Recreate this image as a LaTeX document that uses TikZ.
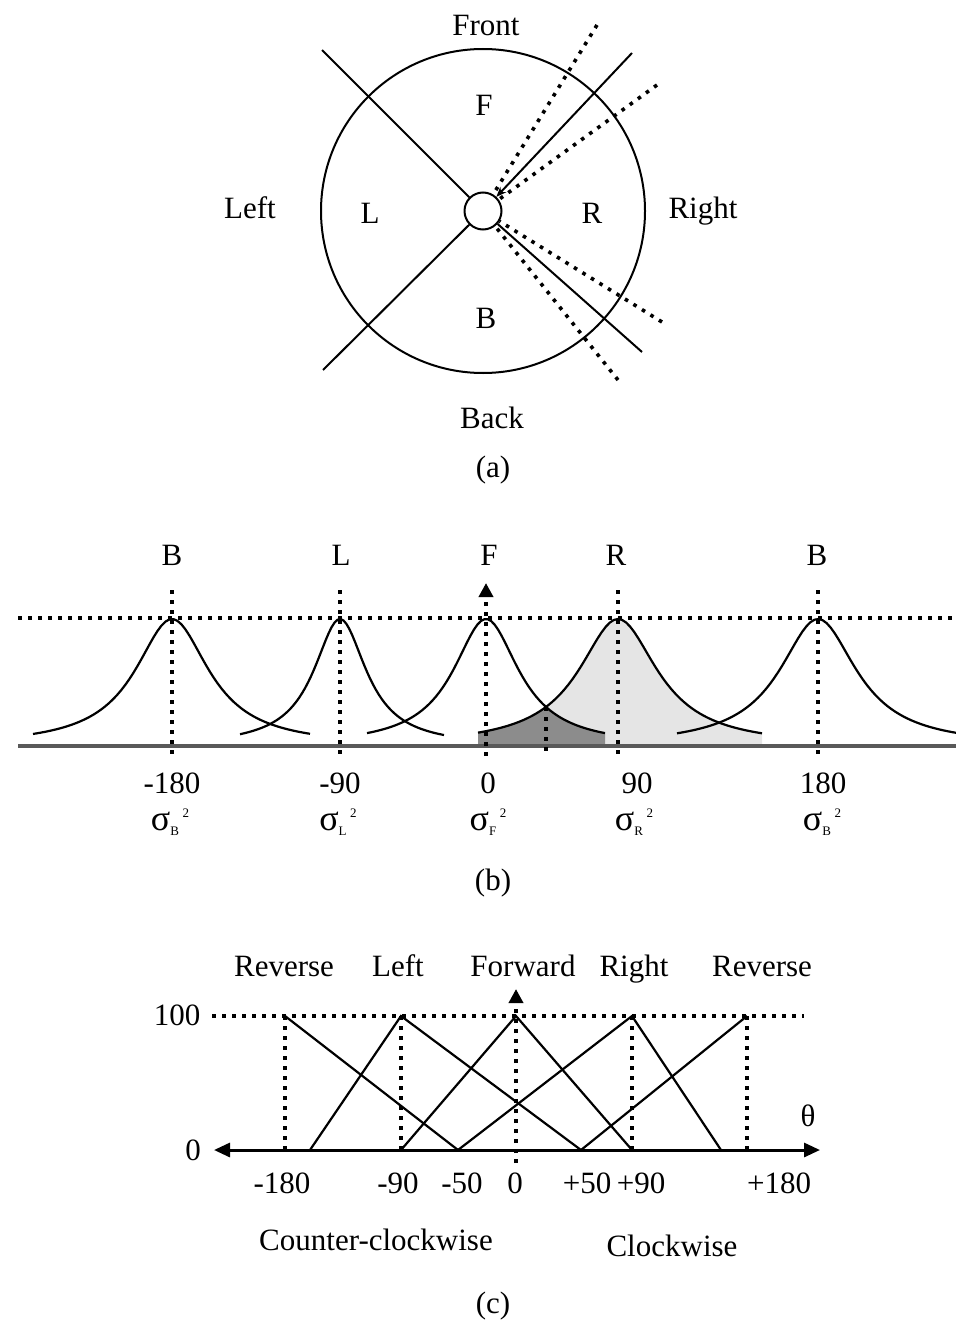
\documentclass[tikz,border=0pt]{standalone}
\usepackage{fontspec}
\setmainfont{Liberation Serif}
\usetikzlibrary{arrows.meta,positioning}

\newcommand{\sig}[1]{{\fontsize{18}{18}\selectfont σ}\raisebox{-2.5pt}{\fontsize{6.5}{6.5}\selectfont #1}\kern1.8pt\raisebox{6.5pt}{\fontsize{6.5}{6.5}\selectfont 2}}

\begin{document}
\begin{tikzpicture}[
    x=0.5pt, y=-0.5pt,
    every node/.style={font=\fontsize{15.5}{18}\selectfont, inner sep=0pt, text height=10.5pt, text depth=0pt},
    bound/.style={line width=1pt},
    dotline/.style={line width=1.8pt, dash pattern=on 1.8pt off 3.2pt},
    curve/.style={line width=1.1pt},
    tip/.style={-{Triangle[length=7pt,width=7pt]}},
    smalltip/.style={-{Stealth[length=5pt,width=4pt]}},
    declare function={bell(\pos,\ctr,\wid)=127/(1+((\pos-\ctr)/\wid)^2);}]
    \useasboundingbox (0,0) rectangle (956,1322);

    % (a) sectors round the robot
    \node[circle, draw, bound, minimum size=162pt] (disc) at (483,211) {};
    \node[circle, draw, bound, minimum size=18.5pt] (hub) at (483,211) {};
    \coordinate (tl) at (322,50);
    \coordinate (bl) at (323,370);
    \coordinate (tr) at (632,53);
    \coordinate (br) at (642,352);
    \coordinate (d1) at (597,25);
    \coordinate (d2) at (657,85);
    \coordinate (d3) at (662,322);
    \coordinate (d4) at (618,380);
    \draw[bound] (tl) -- (hub);
    \draw[bound] (bl) -- (hub);
    \draw[bound, smalltip] (tr) -- (hub);
    \draw[bound] (br) -- (hub);
    \foreach \d in {d1,d2,d3,d4}
        \draw[dotline] (\d) -- (hub);
    \node (front) at (486,25) {Front};
    \node (back) at (492,418) {Back};
    \node (left) at (250,208) {Left};
    \node (right) at (703,208) {Right};
    \node (sf) at (484,105) {F};
    \node (sl) at (370,213) {L};
    \node (sr) at (592,213) {R};
    \node (sb) at (486,318) {B};
    \node (capa) at (493,467) {(a)};

    % (b) membership of the sectors
    \fill[gray!20] (478,746) -- plot[domain=478:762, samples=60] (\x,{746-bell(\x,618,48)}) -- (762,746) -- cycle;
    \fill[black!45] (478,746) -- plot[domain=478:546, samples=30] (\x,{746-bell(\x,618,48)})
        -- plot[domain=546:605, samples=30] (\x,{746-bell(\x,486,40)}) -- (605,746) -- cycle;
    \draw[black!65, line width=2pt] (18,746) -- (956,746);
    \draw[dotline] (18,618) -- (956,618);
    \foreach \cx in {172,340,618,818}
        \draw[dotline] (\cx,590) -- (\cx,756);
    \draw[dotline, tip] (486,756) -- (486,583);
    \draw[dotline] (546,707) -- (546,756);
    \foreach \cx/\hw/\lo/\hi in {172/45/33/310, 340/32/240/444, 486/40/367/605, 618/48/478/762, 818/47/677/956}
        \draw[curve] plot[domain=\lo:\hi, samples=70] (\x,{746-bell(\x,\cx,\hw)});
    \node (pb1) at (172,555) {B};
    \node (pl) at (341,555) {L};
    \node (pf) at (489,555) {F};
    \node (pr) at (616,555) {R};
    \node (pb2) at (817,555) {B};
    \node (ta) at (172,783) {-180};
    \node (tb) at (340,783) {-90};
    \node (tc) at (488,783) {0};
    \node (td) at (637,783) {90};
    \node (te) at (823,783) {180};
    \node (sa) at (170,820) {\sig{B}};
    \node (sbb) at (338,820) {\sig{L}};
    \node (sc) at (488,820) {\sig{F}};
    \node (sd) at (634,820) {\sig{R}};
    \node (se) at (822,820) {\sig{B}};
    \node (capb) at (493,880) {(b)};

    % (c) steering output
    \draw[dotline] (212,1016) -- (804,1016);
    \foreach \cx in {285,401,632,747}
        \draw[dotline] (\cx,1016) -- (\cx,1150);
    \draw[dotline, tip] (516,1163) -- (516,989);
    \draw[line width=1.5pt, {Triangle[length=8pt,width=7pt]}-{Triangle[length=8pt,width=7pt]}] (214,1150) -- (820,1150);
    \draw[curve] (285,1016) -- (458,1150);
    \draw[curve] (310,1150) -- (401,1016) -- (581,1150);
    \draw[curve] (401,1150) -- (516,1016) -- (632,1150);
    \draw[curve] (458,1150) -- (632,1016) -- (721,1150);
    \draw[curve] (581,1150) -- (747,1016);
    \node (rev1) at (284,966) {Reverse};
    \node (lft) at (398,966) {Left};
    \node (fwd) at (523,966) {Forward};
    \node (rgt) at (634,966) {Right};
    \node (rev2) at (762,966) {Reverse};
    \node (hundred) at (177,1015) {100};
    \node (zero) at (193,1150) {0};
    \node (theta) at (808,1116) {θ};
    \node (u1) at (282,1183) {-180};
    \node (u2) at (398,1183) {-90};
    \node (u3) at (462,1183) {-50};
    \node (u4) at (515,1183) {0};
    \node (u5) at (587,1183) {+50};
    \node (u6) at (641,1183) {+90};
    \node (u7) at (779,1183) {+180};
    \node (ccw) at (376,1240) {Counter-clockwise};
    \node (cw) at (672,1246) {Clockwise};
    \node (capc) at (493,1303) {(c)};
\end{tikzpicture}
\end{document}
